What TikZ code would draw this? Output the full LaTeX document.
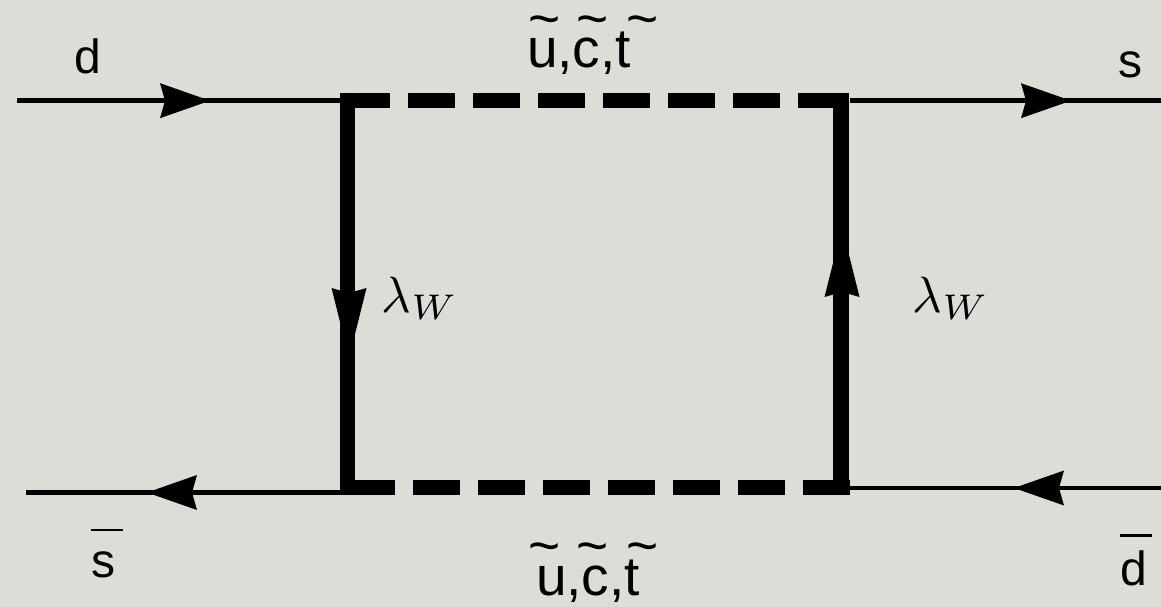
\documentclass[tikz,border=0pt]{standalone}
\usepackage{fontspec}
\usetikzlibrary{calc}
\setmainfont{Liberation Sans}
\definecolor{paper}{RGB}{221,220,215}
\newcommand{\headat}[3]{\fill[shift={(#1)},rotate=#2] (0,0) -- (-#3,-17.5) -- (5-#3,0) -- (-#3,17.5) -- cycle;}
\newcommand{\barred}[2]{\makebox[0pt][l]{\rule[#1]{6.6pt}{0.6pt}}\makebox[6.6pt][l]{#2}}
\newcommand{\tld}[1]{\rlap{\kern#1\raisebox{5.5pt}{\textasciitilde}}}
\tikzset{
    lbl/.style={anchor=base, inner sep=0pt, outer sep=0pt, scale=4.8},
    flavour/.style={anchor=base, inner sep=0pt, outer sep=0pt, scale=5.5},
    coupling/.style={anchor=base, inner sep=0pt, outer sep=0pt, scale=5.1},
    quark/.style={line width=4.5pt},
    gaugino/.style={line width=15.5pt},
    squark/.style={line width=15.5pt, dash pattern=on 47pt off 18pt}
}

\begin{document}
\begin{tikzpicture}[x=1pt, y=-1pt]
    \useasboundingbox (0,0) rectangle (1161,607);

    % background
    \fill[paper] (0,0) rectangle (1161,607);

    % corners of the box
    \coordinate (TL) at (347.5,100.7);
    \coordinate (TR) at (841,100.7);
    \coordinate (BL) at (347.5,487.5);
    \coordinate (BR) at (841,487.5);

    % free ends of the quark lines
    \coordinate (dIn) at (17,100.7);
    \coordinate (sOut) at (1161,100.7);
    \coordinate (sBarOut) at (26,492.5);
    \coordinate (dBarIn) at (1161,488);

    % quark lines
    \draw[quark] (dIn) -- (TL);
    \draw[quark] ($(TR)+(9,0)$) -- (sOut);
    \draw[quark] (BL |- sBarOut) -- (sBarOut);
    \draw[quark] (dBarIn) -- ($(BR |- dBarIn)+(9,0)$);

    % squark lines
    \draw[squark] (343,100.7) -- (846,100.7);
    \draw[squark] (348,487.5) -- (850,487.5);

    % gaugino lines
    \draw[gaugino] ($(TL)+(0,-7.7)$) -- ($(BL)+(0,7.7)$);
    \draw[gaugino] ($(TR)+(0,-7.7)$) -- ($(BR)+(0,7.7)$);

    % arrow heads
    \headat{210,100.7}{0}{50}
    \headat{1071,100.7}{0}{50}
    \headat{147,492.5}{180}{50}
    \headat{1014,488}{180}{50}
    \headat{349,358}{-90}{70}
    \headat{842,227}{90}{70}

    % labels
    \node[lbl] (dLabel) at (88,74) {d};
    \node[lbl] (sLabel) at (1130,78) {s};
    \node[lbl] (sBarLabel) at (107,577) {\barred{9.5pt}{s}};
    \node[lbl] (dBarLabel) at (1136,585) {\barred{10.1pt}{d}};
    \node[flavour] (topLabel) at (579,68) {\tld{0.3pt}u,\tld{0.7pt}c,\tld{2pt}t};
    \node[flavour] (lowLabel) at (588,595) {\tld{-1.3pt}u,\tld{-0.9pt}c,\tld{0.4pt}t};
    \node[coupling] (leftLabel) at (420,312) {$\lambda_W$};
    \node[coupling] (rightLabel) at (951,312) {$\lambda_W$};

\end{tikzpicture}
\end{document}
